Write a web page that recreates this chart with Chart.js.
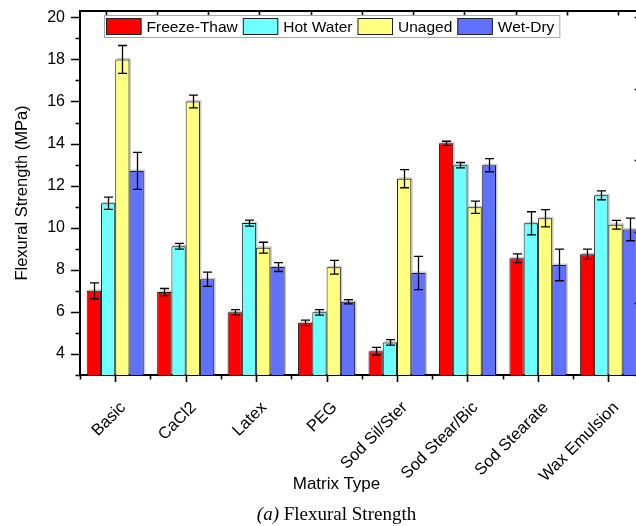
<!DOCTYPE html>
<html>
<head>
<meta charset="utf-8">
<title>Flexural Strength</title>
<script src="https://cdn.jsdelivr.net/npm/chart.js@4.4.1/dist/chart.umd.min.js"></script>
<style>
  html, body { margin: 0; padding: 0; background: #fff; overflow: hidden; width: 636px; height: 526px; }
  #wrap { position: absolute; left: 0; top: 0; width: 660px; height: 526px; }
  canvas { display: block; }
  .xtitle { position: absolute; left: 0; width: 673px; top: 475px; text-align: center;
            font-family: "Liberation Sans", Arial, sans-serif; font-size: 17px; line-height: 1; color: #000; }
  .caption { position: absolute; left: 0; width: 673px; top: 504px; text-align: center;
             font-family: "Liberation Serif", "Times New Roman", serif; font-size: 19px; line-height: 1; color: #000; }
</style>
</head>
<body>
<div id="wrap"><canvas id="chart" width="660" height="526"></canvas></div>
<div class="xtitle">Matrix Type</div>
<div class="caption"><i>(a)</i> Flexural Strength</div>
<script>
// Matrix types along the x axis
const categories = ['Basic', 'CaCl2', 'Latex', 'PEG', 'Sod Sil/Ster', 'Sod Stear/Bic', 'Sod Stearate', 'Wax Emulsion'];
const seriesNames = ['Freeze-Thaw', 'Hot Water', 'Unaged', 'Wet-Dry'];

// Mean flexural strength (MPa) and standard deviation per conditioning
const freezeThaw    = [7.00, 6.94, 5.98, 5.48, 4.13, 14.01, 8.55, 8.74];
const freezeThawErr = [0.38, 0.17, 0.13, 0.13, 0.18, 0.10, 0.21, 0.24];
const hotWater      = [11.16, 9.12, 10.22, 5.98, 4.55, 12.97, 10.21, 11.54];
const hotWaterErr   = [0.29, 0.14, 0.14, 0.13, 0.13, 0.13, 0.55, 0.21];
const unaged        = [18.00, 16.00, 9.05, 8.12, 12.33, 10.97, 10.45, 10.14];
const unagedErr     = [0.66, 0.30, 0.26, 0.33, 0.43, 0.29, 0.41, 0.21];
const wetDry        = [12.70, 7.55, 8.13, 6.48, 7.85, 12.97, 8.23, 9.92];
const wetDryErr     = [0.88, 0.34, 0.21, 0.10, 0.79, 0.31, 0.75, 0.54];

// Labelled ticks on the strength axis
const yTickValues = [4, 6, 8, 10, 12, 14, 16, 18, 20];

const FONT = '"Liberation Sans", Arial, sans-serif';
const seriesValues = [freezeThaw, hotWater, unaged, wetDry];
const seriesErrors = [freezeThawErr, hotWaterErr, unagedErr, wetDryErr];
const seriesColors = ['#ff0000', '#70ffff', '#ffff80', '#6070ff'];

// Grey drop shadow behind every bar
const barShadow = {
  id: 'barShadow',
  beforeDatasetsDraw(chart) {
    const { ctx, chartArea: a } = chart;
    ctx.save();
    ctx.beginPath();
    ctx.rect(a.left, a.top, a.right - a.left, a.bottom - a.top);
    ctx.clip();
    ctx.fillStyle = 'rgba(0,0,0,0.2)';
    chart.data.datasets.forEach((ds, d) => {
      chart.getDatasetMeta(d).data.forEach(bar => {
        const w = bar.width;
        ctx.fillRect(bar.x - w / 2 + 1.5, bar.y - 1.5, w, bar.base - bar.y + 1.5);
      });
    });
    ctx.restore();
  }
};

// Standard-deviation whiskers with caps
const errorBars = {
  id: 'errorBars',
  afterDatasetsDraw(chart) {
    const { ctx } = chart;
    const y = chart.scales.y;
    ctx.save();
    ctx.strokeStyle = '#000';
    ctx.lineWidth = 1.3;
    chart.data.datasets.forEach((ds, d) => {
      const errs = seriesErrors[d];
      chart.getDatasetMeta(d).data.forEach((bar, i) => {
        const v = ds.data[i];
        const top = y.getPixelForValue(v + errs[i]);
        const bot = y.getPixelForValue(v - errs[i]);
        const cx = Math.round(bar.x) + 0.5;
        const cap = 4.5;
        ctx.beginPath();
        ctx.moveTo(cx, top); ctx.lineTo(cx, bot);
        ctx.moveTo(cx - cap, top); ctx.lineTo(cx + cap, top);
        ctx.moveTo(cx - cap, bot); ctx.lineTo(cx + cap, bot);
        ctx.stroke();
      });
    });
    ctx.restore();
  }
};

// Frame and tick marks on all four sides
const frameTicks = {
  id: 'frameTicks',
  afterDraw(chart) {
    const { ctx, chartArea: a, scales } = chart;
    ctx.save();
    ctx.strokeStyle = '#000';
    ctx.lineWidth = 2;
    ctx.beginPath();
    ctx.moveTo(a.left - 1, a.top); ctx.lineTo(a.right + 1, a.top);
    ctx.moveTo(a.right, a.top); ctx.lineTo(a.right, a.bottom);
    ctx.stroke();

    ctx.lineWidth = 1.6;
    ctx.beginPath();
    // left axis: major at even values, minor at odd values
    for (let v = 3; v <= 20; v++) {
      const py = Math.round(scales.y.getPixelForValue(v)) + 0.5;
      const len = v % 2 === 0 ? 9 : 4.5;
      ctx.moveTo(a.left - len, py); ctx.lineTo(a.left, py);
    }
    // bottom axis: major at category centres, minor at boundaries
    for (let i = 0; i < categories.length; i++) {
      const px = Math.round(scales.x.getPixelForValue(i)) + 0.5;
      ctx.moveTo(px, a.bottom); ctx.lineTo(px, a.bottom + 7);
    }
    for (let i = 0; i <= categories.length; i++) {
      const px = Math.round(scales.x.getPixelForValue(i - 0.5)) + 0.5;
      ctx.moveTo(px, a.bottom); ctx.lineTo(px, a.bottom + 4.5);
    }
    // top axis ticks, pointing inward
    for (let v = 0; v <= 10; v++) {
      const px = Math.round(scales.xTop.getPixelForValue(v)) + 0.5;
      ctx.moveTo(px, a.top); ctx.lineTo(px, a.top + 4.5);
    }
    // right axis ticks, pointing inward
    for (let v = 0; v <= 5; v++) {
      const py = Math.round(scales.yRight.getPixelForValue(v)) + 0.5;
      ctx.moveTo(a.right, py); ctx.lineTo(a.right - 9, py);
    }
    ctx.stroke();
    ctx.restore();
  }
};

// Boxed legend inside the plot area
const boxLegend = {
  id: 'boxLegend',
  afterDraw(chart) {
    const { ctx } = chart;
    ctx.save();
    ctx.font = '15.5px ' + FONT;
    const left = 104.5, top = 15.5, h = 22;
    const sw = 35.5, gap = 5;
    let w = 2;
    chart.data.datasets.forEach(ds => { w += sw + gap + ctx.measureText(ds.label).width + gap; });
    ctx.fillStyle = '#fff';
    ctx.fillRect(left, top, w, h);
    ctx.strokeStyle = '#a8a8a8';
    ctx.lineWidth = 1;
    ctx.strokeRect(left, top, w, h);
    let x = left + 1.5;
    chart.data.datasets.forEach(ds => {
      ctx.fillStyle = ds.backgroundColor;
      ctx.fillRect(x, top + 3, sw, h - 6);
      ctx.strokeStyle = '#222';
      ctx.strokeRect(x + 0.5, top + 3, sw - 1, h - 6);
      x += sw + gap;
      ctx.fillStyle = '#000';
      ctx.textBaseline = 'middle';
      ctx.textAlign = 'left';
      ctx.fillText(ds.label, x, top + h / 2 + 1);
      x += ctx.measureText(ds.label).width + gap;
    });
    ctx.restore();
  }
};

new Chart(document.getElementById('chart'), {
  type: 'bar',
  data: {
    labels: categories,
    datasets: seriesNames.map((name, d) => ({
      label: name,
      data: seriesValues[d],
      backgroundColor: seriesColors[d],
      borderColor: '#1e1e1e',
      borderWidth: 1,
      borderSkipped: false,
      categoryPercentage: 0.81,
      barPercentage: 1,
      xAxisID: 'x',
      yAxisID: 'y'
    }))
  },
  options: {
    responsive: false,
    animation: false,
    layout: { padding: { left: 0, top: 11, right: 16.4, bottom: 0 } },
    plugins: { legend: { display: false }, tooltip: { enabled: false } },
    scales: {
      x: {
        type: 'category',
        position: 'bottom',
        offset: true,
        grid: { display: false },
        border: { display: true, color: '#000', width: 2 },
        ticks: { font: { family: FONT, size: 16.5 }, color: '#000', minRotation: 45, maxRotation: 45,
                 autoSkip: false, padding: 15, labelOffset: 8 },
        afterFit: s => { s.height = 151; s.paddingLeft = 0; s.paddingRight = 0; }
      },
      y: {
        position: 'left',
        min: 3,
        max: 20.3,
        grid: { display: false, drawTicks: false },
        border: { display: true, color: '#000', width: 2 },
        ticks: { font: { family: FONT, size: 16 }, color: '#000', padding: 15 },
        afterBuildTicks: s => { s.ticks = yTickValues.map(v => ({ value: v })); },
        afterFit: s => { s.width = 80; s.paddingTop = 0; s.paddingBottom = 0; },
        title: { display: true, text: 'Flexural Strength (MPa)', color: '#000',
                 font: { family: FONT, size: 16.5 }, padding: { top: 13, bottom: 0 } }
      },
      xTop: { type: 'linear', position: 'top', min: 0, max: 10, display: false },
      yRight: { type: 'linear', position: 'right', min: 0, max: 5.088, display: false }
    }
  },
  plugins: [barShadow, errorBars, frameTicks, boxLegend]
});
</script>
</body>
</html>
